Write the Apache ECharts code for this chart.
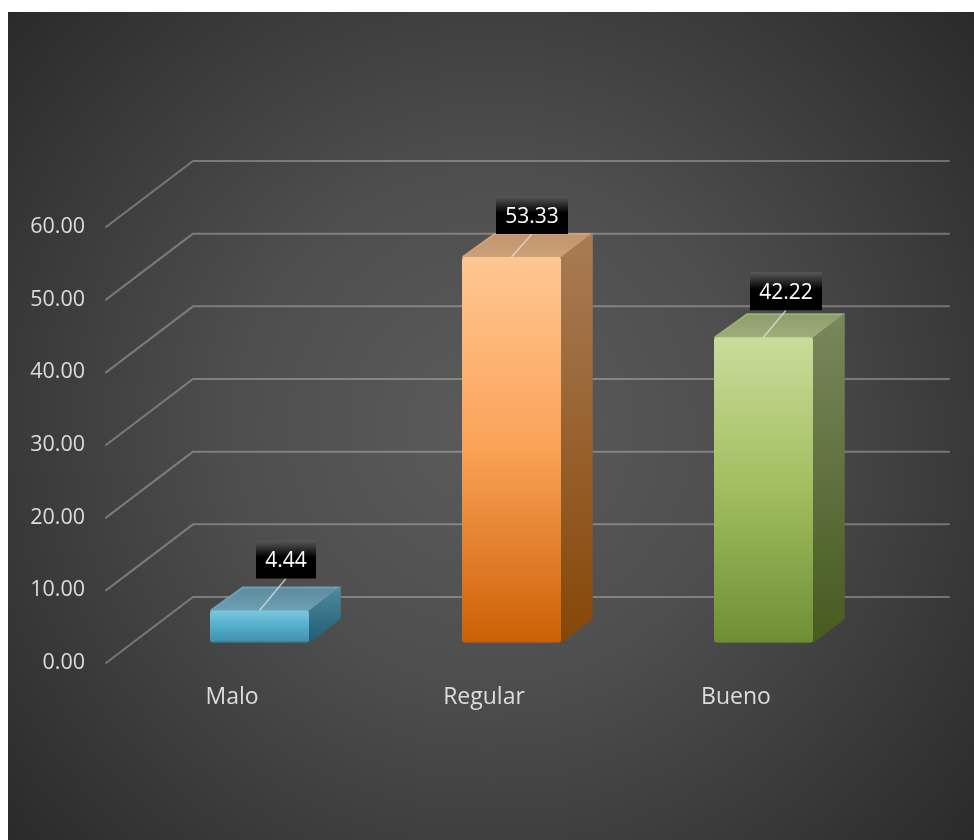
<!DOCTYPE html>
<html>
<head>
<meta charset="utf-8">
<style>html,body{margin:0;padding:0;background:#fff}#c{width:974px;height:840px}</style>
<script src="https://cdn.jsdelivr.net/npm/echarts@6/dist/echarts.min.js"></script>
</head>
<body>
<div id="c"></div>
<script>
const categories = ['Malo', 'Regular', 'Bueno'];
const values = [4.44, 53.33, 42.22];
const gridTicks = [0, 10, 20, 30, 40, 50, 60];

const FONT = '"Open Sans", sans-serif';
const TEXT = '#dcdcdc';
const WALL = [87, -66];
const BAR_BASE = [27.5, -20.5];
const DEPTH = [32, -24];
const BAR_BAND = 99 / 252;
const HEIGHT_SCALE = 0.995;
const palette = [
  { front: ['#79c8de', '#52aeca', '#3f8fab'], top: ['#5c8b9f', '#6f9fb2'], side: ['#4f8aa0', '#1f5c72'], edge: '#2f7388' },
  { front: ['#ffc793', '#faa256', '#cc6006'], top: ['#bf946c', '#cda27a'], side: ['#a97c55', '#854708'], edge: '#b85a08' },
  { front: ['#c9dc9b', '#a0be5e', '#6f8f35'], top: ['#8d9c6c', '#9eae7a'], side: ['#79885d', '#475a1f'], edge: '#66842f' }
];
const labelNudge = [[26.5, -32], [20.5, -23], [22.5, -27]];
const labelWidth = [60, 72, 72];
const LABEL_H = 38;

function grad(stops) {
  const n = stops.length - 1;
  return new echarts.graphic.LinearGradient(0, 0, 0, 1,
    stops.map((c, i) => ({ offset: i / n, color: c })));
}

function renderGrid(params, api) {
  const v = api.value(0);
  const start = api.coord([0, v]);
  const x0 = params.coordSys.x;
  const y = start[1];
  const xEnd = x0 + params.coordSys.width + WALL[0];
  return {
    type: 'polyline',
    shape: { points: [[x0, y], [x0 + WALL[0], y + WALL[1]], [xEnd, y + WALL[1]]] },
    style: { stroke: 'rgba(205,205,205,0.4)', lineWidth: 2, fill: null, lineCap: 'round', lineJoin: 'round' }
  };
}

function renderBar(params, api) {
  const i = api.value(0);
  const val = api.value(1);
  const p0 = api.coord([i, 0]);
  const p1 = api.coord([i, val]);
  const w = api.size([1, 0])[0] * BAR_BAND;
  const cx = p0[0] + BAR_BASE[0];
  const l = cx - w / 2, r = cx + w / 2;
  const b = p0[1] + BAR_BASE[1];
  const t = b - (p0[1] - p1[1]) * HEIGHT_SCALE;
  const c = palette[i];
  const dx = DEPTH[0], dy = DEPTH[1];
  const boxW = labelWidth[i];
  const lx = cx + labelNudge[i][0];
  const ly = t + labelNudge[i][1];
  return {
    type: 'group',
    children: [
      { type: 'polygon', shape: { points: [[l + 1, t], [r, t], [r + dx - 1, t + dy + 1], [l + dx + 1, t + dy + 1]] },
        style: { fill: grad(c.top), stroke: c.top[1], lineWidth: 2, lineJoin: 'round' } },
      { type: 'polygon', shape: { points: [[r, t + 1], [r + dx - 1, t + dy + 1], [r + dx - 1, b + dy], [r, b]] },
        style: { fill: grad(c.side), stroke: grad(c.side), lineWidth: 1.5, lineJoin: 'round' } },
      { type: 'rect', shape: { x: l, y: t, width: w, height: b - t, r: 3 },
        style: { fill: grad(c.front), stroke: null } },
      { type: 'line', shape: { x1: l + 3, y1: b - 0.5, x2: r - 3, y2: b - 0.5 },
        style: { stroke: c.edge, lineWidth: 1 } },
      { type: 'line', shape: { x1: cx, y1: t, x2: lx, y2: ly },
        style: { stroke: 'rgba(225,225,225,0.75)', lineWidth: 1.5 } },
      { type: 'rect', shape: { x: lx - boxW / 2, y: ly - LABEL_H, width: boxW, height: LABEL_H },
        style: { fill: new echarts.graphic.LinearGradient(0, 0, 0, 1, [
          { offset: 0, color: '#595959' }, { offset: 0.45, color: '#000000' }, { offset: 1, color: '#000000' }
        ]) } },
      { type: 'text', x: lx, y: ly - LABEL_H / 2 + 2,
        style: { text: val.toFixed(2), fill: '#ffffff', font: '21px ' + FONT, align: 'center', verticalAlign: 'middle' } }
    ]
  };
}

const chart = echarts.init(document.getElementById('c'), null, { renderer: 'canvas' });
chart.setOption({
  backgroundColor: '#ffffff',
  animation: false,
  graphic: [{
    type: 'rect', z: -10, silent: true,
    shape: { x: 8, y: 12, width: 966, height: 828 },
    style: { fill: new echarts.graphic.RadialGradient(0.5, 0.5, 0.77, [
      { offset: 0, color: '#5b5b5b' }, { offset: 0.4, color: '#4e4e4e' }, { offset: 1, color: '#2a2a2a' }
    ]) }
  }],
  grid: { left: 106, top: 227, width: 756, height: 436, containLabel: false },
  xAxis: {
    type: 'category', data: categories,
    axisLine: { show: false }, axisTick: { show: false }, splitLine: { show: false },
    axisLabel: { color: TEXT, fontFamily: FONT, fontSize: 23, margin: 23 }
  },
  yAxis: {
    type: 'value', min: 0, max: 60, interval: 10,
    axisLine: { show: false }, axisTick: { show: false }, splitLine: { show: false },
    axisLabel: { color: TEXT, fontFamily: FONT, fontSize: 21.5, margin: 21, padding: [3, 0, 0, 0], formatter: v => v.toFixed(2) }
  },
  series: [
    { type: 'custom', coordinateSystem: 'cartesian2d', renderItem: renderGrid, silent: true, z: 1,
      encode: { y: 0 }, data: gridTicks.map(v => [v]), clip: false },
    { type: 'custom', coordinateSystem: 'cartesian2d', renderItem: renderBar, silent: true, z: 2,
      encode: { x: 0, y: 1 }, data: values.map((v, i) => [i, v]), clip: false }
  ]
});
</script>
</body>
</html>
